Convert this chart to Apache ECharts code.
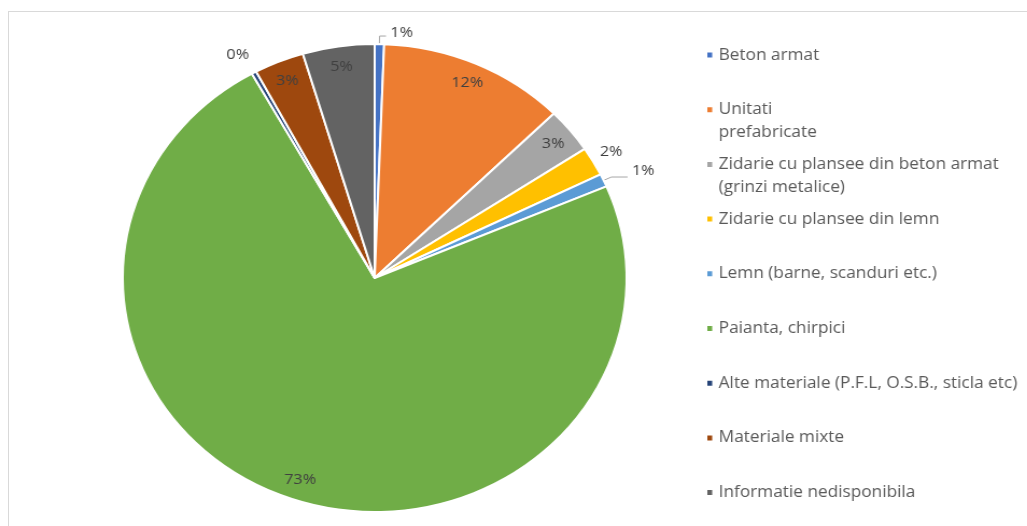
<!DOCTYPE html>
<html>
<head>
<meta charset="utf-8">
<script src="https://cdn.jsdelivr.net/npm/echarts@6/dist/echarts.min.js"></script>
<style>
  html, body { margin: 0; padding: 0; background: #fff; width: 1027px; height: 526px; overflow: hidden; }
  #frame { position: absolute; left: 8px; top: 11px; width: 1100px; height: 600px; border: 1px solid #d9d9d9; box-sizing: border-box; }
  /* the chart is drawn slightly widened, so the pie appears as a horizontal oval */
  #chart { position: absolute; left: 0; top: 0; width: 954px; height: 526px; transform: scaleX(1.0766); transform-origin: 0 0; }
</style>
</head>
<body>
<div id="frame"></div>
<div id="chart"></div>
<script>
// Building stock by main structural material (share of buildings, %)
const categories = [
  'Beton armat',
  'Unitati\nprefabricate',
  'Zidarie cu plansee din beton armat\n(grinzi metalice)',
  'Zidarie cu plansee din lemn',
  'Lemn (barne, scanduri etc.)',
  'Paianta, chirpici',
  'Alte materiale (P.F.L, O.S.B., sticla etc)',
  'Materiale mixte',
  'Informatie nedisponibila'
];
const shares = [0.6, 12.0, 3.1, 2.0, 0.9, 73.3, 0.3, 3.2, 4.6];

const colors = ['#4472C4', '#ED7D31', '#A5A5A5', '#FFC000', '#5B9BD5', '#70AD47', '#264478', '#9E480E', '#636363'];
// which slices carry their percentage inside the rim
const labelInside = [false, true, true, false, false, true, false, true, true];
// leader-line settings for the labels placed outside the pie
const outerLine = {
  0: { show: true, length: 8, length2: 6 },
  3: { show: false, length: 20, length2: -15 },
  4: { show: true, length: 8, length2: 15 },
  6: { show: false, length: 20, length2: -9 }
};
// lift some outside labels so they sit above the end of their leader line
const outerLift = { 0: [0, -3], 4: [0, -6] };

const FONT = '"Open Sans", sans-serif';
const CENTER = [348, 278];
const R = 234;

const chart = echarts.init(document.getElementById('chart'), null, { renderer: 'canvas' });

chart.setOption({
  animation: false,
  backgroundColor: 'transparent',
  legend: {
    orient: 'vertical',
    left: 655,
    top: 20.5,
    height: 520,
    padding: 0,
    itemGap: -14.3,
    itemWidth: 6.5,
    itemHeight: 7,
    icon: 'rect',
    selectedMode: false,
    data: categories,
    // pad every entry so its first line sits level with the marker
    formatter: name => name.indexOf('\n') >= 0 ? '\n' + name : '\n' + name + '\n',
    textStyle: { color: '#595959', fontSize: 16, lineHeight: 23, fontFamily: FONT }
  },
  series: [
    {
      name: 'slices',
      type: 'pie',
      center: CENTER,
      radius: R,
      startAngle: 90,
      clockwise: true,
      avoidLabelOverlap: false,
      percentPrecision: 0,
      itemStyle: { borderColor: '#ffffff', borderWidth: 2 },
      label: { position: 'outside', formatter: '{d}%', color: '#404040', fontSize: 15, fontFamily: FONT, distanceToLabelLine: 4 },
      labelLine: { lineStyle: { color: '#a6a6a6', width: 1 }, smooth: false },
      emphasis: { disabled: true },
      data: categories.map((name, i) => ({
        name: name,
        value: shares[i],
        itemStyle: { color: colors[i] },
        label: { show: !labelInside[i], offset: outerLift[i] || [0, 0] },
        labelLine: labelInside[i] ? { show: false } : outerLine[i]
      }))
    },
    {
      name: 'rim labels',
      type: 'pie',
      center: CENTER,
      radius: [R * 0.8, R],
      startAngle: 90,
      clockwise: true,
      silent: true,
      avoidLabelOverlap: false,
      percentPrecision: 0,
      itemStyle: { color: 'rgba(0,0,0,0)', borderWidth: 0 },
      label: { position: 'inside', formatter: '{d}%', color: '#404040', fontSize: 15, fontFamily: FONT },
      labelLine: { show: false },
      emphasis: { disabled: true },
      data: categories.map((name, i) => ({
        name: name,
        value: shares[i],
        label: { show: labelInside[i] }
      }))
    }
  ]
});
</script>
</body>
</html>
